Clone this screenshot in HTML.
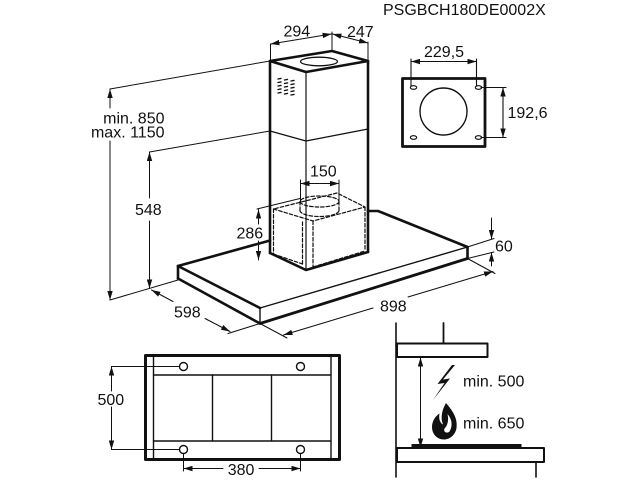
<!DOCTYPE html>
<html><head><meta charset="utf-8"><style>
html,body{margin:0;padding:0;background:#fff;}
svg{display:block;}
text{font-family:"Liberation Sans",Arial,sans-serif;font-size:16px;fill:#111;}
</style></head><body>
<svg width="640" height="480" viewBox="0 0 640 480" xmlns="http://www.w3.org/2000/svg">
<defs>
<marker id="a" viewBox="0 0 10 6" refX="10" refY="3" markerWidth="9" markerHeight="5.5" markerUnits="userSpaceOnUse" orient="auto-start-reverse"><path d="M0,0 L10,3 L0,6 Z" fill="#111"/></marker>
</defs>
<rect width="640" height="480" fill="#fff"/>
<g stroke="#111" fill="none" stroke-linecap="round" stroke-linejoin="round">

<!-- ===== Chimney ===== -->
<polygon points="270,61 332,51 368,61 306,72" stroke-width="2.6"/>
<ellipse cx="319" cy="61.5" rx="18.5" ry="4.3" stroke-width="1.3"/>
<line x1="270" y1="61" x2="270" y2="253" stroke-width="2.6"/>
<line x1="368" y1="61" x2="368" y2="252" stroke-width="2.6"/>
<line x1="306" y1="72" x2="306" y2="270" stroke-width="1.2"/>
<polyline points="270,131 306,141 368,129" stroke-width="1.2"/>
<polyline points="270,253 306,270 368,252" stroke-width="2.6"/>
<!-- vents -->
<g stroke-width="1.4">
<path d="M278,79 l3,-0.6 M278,82.5 l3,-0.6 M278,86 l3,-0.6 M278,89.5 l3,-0.6 M278,93 l3,-0.6"/>
<path d="M284.5,80 l3,-0.6 M284.5,83.5 l3,-0.6 M284.5,87 l3,-0.6 M284.5,90.5 l3,-0.6 M284.5,94 l3,-0.6"/>
<path d="M291,81 l3,-0.6 M291,84.5 l3,-0.6 M291,88 l3,-0.6 M291,91.5 l3,-0.6 M291,95 l3,-0.6"/>
</g>

<!-- dashed motor box -->
<g stroke-width="1.2" stroke-dasharray="3.5,2">
<polyline points="273.5,209 313,221 365,207 337,193 273.5,209"/>
<line x1="273.5" y1="209" x2="273.5" y2="254"/>
<line x1="313" y1="221" x2="313" y2="267"/>
<line x1="302.5" y1="222" x2="302.5" y2="264"/>
<line x1="365" y1="207" x2="365" y2="251"/>
<line x1="273.5" y1="254" x2="302.5" y2="264"/>
<line x1="313" y1="267" x2="365" y2="251"/>
<ellipse cx="319.5" cy="201.5" rx="19.5" ry="5.5"/>
<line x1="300" y1="201.5" x2="300" y2="210.5"/>
<line x1="339" y1="201.5" x2="339" y2="210.5"/>
<path d="M300,210.5 A19.5,6 0 0 0 339,210.5"/>
</g>

<!-- ===== Hood ===== -->
<line x1="178" y1="266" x2="270" y2="240.5" stroke-width="2.6"/>
<polyline points="368,211 378,211 467.5,247" stroke-width="2.6"/>
<line x1="178" y1="266" x2="260" y2="308" stroke-width="2.6"/>
<line x1="260" y1="308" x2="467.5" y2="247" stroke-width="1.4"/>
<line x1="178" y1="266" x2="178" y2="278.5" stroke-width="2.6"/>
<line x1="178" y1="278.5" x2="260" y2="323.5" stroke-width="2.6"/>
<line x1="260" y1="308" x2="260" y2="323.5" stroke-width="1.4"/>
<line x1="260" y1="323.5" x2="467.5" y2="258.5" stroke-width="2.8"/>
<line x1="467.5" y1="247" x2="467.5" y2="258.5" stroke-width="2.6"/>

<!-- ===== dimension lines (thin) ===== -->
<g stroke-width="1">
<!-- 294 / 247 -->
<line x1="270.5" y1="44" x2="270.5" y2="60"/>
<line x1="332" y1="32" x2="332" y2="50"/>
<line x1="368" y1="42" x2="368" y2="60"/>
<line x1="270.5" y1="44" x2="331.5" y2="34" marker-start="url(#a)" marker-end="url(#a)"/>
<line x1="332.5" y1="34" x2="368" y2="43" marker-start="url(#a)" marker-end="url(#a)"/>

<!-- min850 / max1150 -->
<line x1="110" y1="89" x2="270" y2="61"/>
<line x1="110" y1="108" x2="110" y2="89" marker-end="url(#a)"/>
<line x1="110" y1="141" x2="110" y2="300" marker-end="url(#a)"/>
<line x1="110" y1="300" x2="178" y2="280"/>

<!-- 548 -->
<line x1="149.5" y1="152" x2="270" y2="131"/>
<line x1="149.5" y1="198" x2="149.5" y2="152" marker-end="url(#a)"/>
<line x1="149.5" y1="221" x2="149.5" y2="288.5" marker-end="url(#a)"/>

<!-- 286 -->
<line x1="257" y1="209" x2="300" y2="198.5"/>
<line x1="258.5" y1="224" x2="258.5" y2="209.5" marker-end="url(#a)"/>
<line x1="258.5" y1="241" x2="258.5" y2="260" marker-end="url(#a)"/>

<!-- 150 -->
<line x1="300.5" y1="180" x2="300.5" y2="202"/>
<line x1="339" y1="180" x2="339" y2="200"/>
<line x1="300.5" y1="183.5" x2="339" y2="183.5" marker-start="url(#a)" marker-end="url(#a)"/>

<!-- 598 -->
<line x1="173" y1="301.5" x2="151.5" y2="290" marker-end="url(#a)"/>
<line x1="205" y1="318.5" x2="230" y2="331.5" marker-end="url(#a)"/>
<line x1="228" y1="333.5" x2="260" y2="323.5"/>

<!-- 898 -->
<line x1="260" y1="323.5" x2="287" y2="338"/>
<line x1="467.5" y1="258.5" x2="495" y2="273.5"/>
<line x1="373" y1="308" x2="283.5" y2="335" marker-end="url(#a)"/>
<line x1="408" y1="297" x2="493" y2="271.5" marker-end="url(#a)"/>

<!-- 60 -->
<line x1="467.5" y1="247" x2="494" y2="238.5"/>
<line x1="467.5" y1="258.5" x2="494" y2="252"/>
<line x1="491.5" y1="218" x2="491.5" y2="239" marker-end="url(#a)"/>
<line x1="491.5" y1="266" x2="491.5" y2="252.5" marker-end="url(#a)"/>
</g>

<!-- ===== Flange plate ===== -->
<rect x="402.5" y="78.5" width="82.5" height="68" stroke-width="2.8"/>
<circle cx="443.5" cy="111.5" r="23.5" stroke-width="1.4"/>
<g stroke-width="1.1">
<ellipse cx="413.5" cy="87.5" rx="3.2" ry="1.8"/>
<ellipse cx="478.5" cy="87.5" rx="3.2" ry="1.8"/>
<ellipse cx="413.5" cy="137.5" rx="3.2" ry="1.8"/>
<ellipse cx="478.5" cy="137.5" rx="3.2" ry="1.8"/>
<line x1="411" y1="59" x2="411" y2="86"/>
<line x1="476.5" y1="59" x2="476.5" y2="86"/>
<line x1="411" y1="61.5" x2="476.5" y2="61.5" marker-start="url(#a)" marker-end="url(#a)"/>
<line x1="481" y1="87.5" x2="506" y2="87.5"/>
<line x1="481" y1="137.5" x2="506" y2="137.5"/>
<line x1="503" y1="87.5" x2="503" y2="137.5" marker-start="url(#a)" marker-end="url(#a)"/>
</g>

<!-- ===== Plan view ===== -->
<rect x="145.5" y="355.5" width="194" height="104" stroke-width="3"/>
<g stroke-width="1.4">
<line x1="153.5" y1="356" x2="153.5" y2="459"/>
<line x1="331" y1="356" x2="331" y2="459"/>
<line x1="153.5" y1="375" x2="331" y2="375"/>
<line x1="153.5" y1="441" x2="331" y2="441"/>
<line x1="212.5" y1="375" x2="212.5" y2="441"/>
<line x1="271.5" y1="375" x2="271.5" y2="441"/>
<circle cx="183.5" cy="366.5" r="4"/>
<circle cx="300.5" cy="366.5" r="4"/>
<circle cx="183.5" cy="449.5" r="4"/>
<circle cx="300.5" cy="449.5" r="4"/>
</g>
<g stroke-width="1">
<line x1="111.5" y1="366.5" x2="179.5" y2="366.5"/>
<line x1="111.5" y1="449.5" x2="179.5" y2="449.5"/>
<line x1="111.5" y1="391" x2="111.5" y2="366.5" marker-end="url(#a)"/>
<line x1="111.5" y1="407" x2="111.5" y2="449.5" marker-end="url(#a)"/>
<line x1="183.5" y1="453.5" x2="183.5" y2="471"/>
<line x1="300.5" y1="453.5" x2="300.5" y2="471"/>
<line x1="223" y1="468.5" x2="183.5" y2="468.5" marker-end="url(#a)"/>
<line x1="259" y1="468.5" x2="300.5" y2="468.5" marker-end="url(#a)"/>
</g>

<!-- ===== Clearance view ===== -->
<line x1="396" y1="323" x2="396" y2="477" stroke-width="1.6"/>
<line x1="443.5" y1="323" x2="443.5" y2="343.5" stroke-width="1.8"/>
<rect x="397" y="343.5" width="90.5" height="13.5" stroke-width="2"/>
<rect x="397" y="448" width="147" height="14" stroke-width="2"/>
<rect x="411.5" y="444" width="110" height="4.5" fill="#111" stroke="none"/>
<line x1="536" y1="462" x2="536" y2="477" stroke-width="1.6"/>
<line x1="420.5" y1="357.5" x2="420.5" y2="447.5" stroke-width="1" marker-start="url(#a)" marker-end="url(#a)"/>
</g>

<!-- icons -->
<path d="M452,365 L437.5,384 L444.5,383 L433,400 L450,378.5 L443,379.5 L455,365 Z" fill="#111"/>
<path d="M446,403 C452,410 458,418 456.5,428 C455.5,435 449.5,439.5 444,439.5 C437,439.5 432,434 432,427 C432,421 435.5,416 439.5,413.5 C438.5,419 440,423 443,424.5 C440,417 442.5,409 446,403 Z" fill="#111"/>
<path d="M447.5,414 C452,419 453,426 449.5,431.5 C447,434 443,432 444.5,428.5 C447.5,426 449,420 447.5,414 Z" fill="#fff"/>

<!-- ===== Text ===== -->
<text x="383" y="15">PSGBCH180DE0002X</text>
<text x="283.5" y="36.5">294</text>
<text x="347" y="37">247</text>
<text x="424" y="57">229,5</text>
<text x="507.5" y="118">192,6</text>
<text x="164.5" y="123.3" text-anchor="end">min. 850</text>
<text x="164.5" y="137.3" text-anchor="end">max. 1150</text>
<text x="135" y="215">548</text>
<text x="310" y="176.7">150</text>
<text x="236.5" y="238.3">286</text>
<text x="495" y="251.7">60</text>
<text x="174" y="317.3">598</text>
<text x="380" y="311.7">898</text>
<text x="97.5" y="405">500</text>
<text x="227.7" y="475">380</text>
<text x="463" y="386.7">min. 500</text>
<text x="463" y="428.3">min. 650</text>
</svg>
</body></html>
